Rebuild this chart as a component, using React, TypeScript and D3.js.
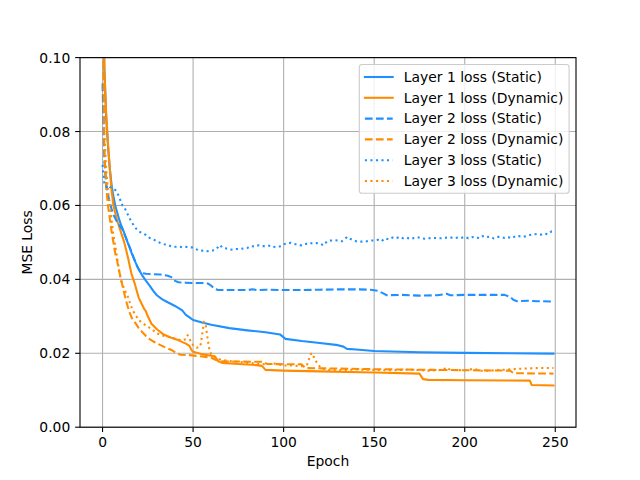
import React from "react";
import * as d3 from "d3";

type Pt = [number, number];

const BLUE = "#1E90FF";
const ORANGE = "#FF8C00";

const xTicks = [0, 50, 100, 150, 200, 250];
const yTicks = [0, 0.02, 0.04, 0.06, 0.08, 0.1];

const layer1Static: Pt[] = [
  [0, 0.135], [1, 0.097], [2, 0.084], [3, 0.076], [4, 0.07], [5, 0.0655], [6, 0.0625], [7, 0.06],
  [8, 0.0582], [9, 0.0565], [10, 0.055], [11, 0.0538], [12, 0.0525], [14, 0.0498], [16, 0.0472],
  [18, 0.0448], [19, 0.0437], [20, 0.0427], [22, 0.041], [24, 0.0396], [26, 0.0383], [28, 0.0369],
  [30, 0.0357], [33, 0.0346], [36, 0.0338], [40, 0.0328], [42, 0.0322], [44, 0.0316], [46, 0.0304],
  [48, 0.0297], [50, 0.029], [55, 0.0283], [60, 0.0277], [70, 0.0268], [80, 0.0262], [90, 0.0257],
  [98, 0.0251], [100, 0.0243], [101, 0.0239], [110, 0.0233], [120, 0.0228], [130, 0.0222],
  [133, 0.0218], [135, 0.0212], [140, 0.021], [150, 0.0206], [175, 0.0203], [200, 0.0201],
  [225, 0.02], [249, 0.0199],
];

const layer1Dynamic: Pt[] = [
  [0, 0.13], [1, 0.097], [2, 0.085], [3, 0.077], [4, 0.07], [5, 0.064], [6, 0.06], [7, 0.058],
  [8, 0.056], [9, 0.0545], [10, 0.053], [11, 0.0515], [12, 0.05], [13, 0.048], [14, 0.046],
  [15, 0.0437], [16, 0.0415], [17, 0.04], [18, 0.0385], [19, 0.0367], [20, 0.035], [21, 0.034],
  [22, 0.033], [23, 0.032], [24, 0.0313], [25, 0.03], [26, 0.029], [27, 0.028], [28, 0.0275],
  [30, 0.0265], [34, 0.025], [38, 0.0242], [42, 0.0235], [46, 0.0226], [48, 0.022], [49, 0.021],
  [50, 0.0204], [54, 0.0199], [58, 0.0195], [62, 0.0192], [64, 0.0178], [66, 0.0174], [75, 0.0171],
  [85, 0.0168], [88, 0.0166], [90, 0.0155], [100, 0.0153], [120, 0.0151], [150, 0.0148],
  [175, 0.0145], [177, 0.013], [180, 0.0128], [200, 0.0127], [236, 0.0126], [237, 0.0114],
  [249, 0.0113],
];

const layer2Static: Pt[] = [
  [0, 0.093], [1, 0.072], [2, 0.066], [3, 0.063], [4, 0.0608], [5, 0.059], [6, 0.0575], [7, 0.0565],
  [8, 0.0556], [9, 0.0548], [10, 0.0541], [11, 0.0535], [12, 0.0523], [13, 0.0511], [14, 0.0499],
  [15, 0.0487], [16, 0.0474], [17, 0.0461], [18, 0.0449], [19, 0.0437], [20, 0.0427], [21, 0.042],
  [22, 0.0417], [24, 0.0415], [28, 0.0414], [32, 0.0413], [36, 0.041], [38, 0.0406], [40, 0.0396],
  [42, 0.0392], [46, 0.0391], [50, 0.039], [55, 0.039], [58, 0.0389], [60, 0.0383], [62, 0.0374],
  [64, 0.0371], [70, 0.0371], [80, 0.0371], [83, 0.0373], [85, 0.0371], [90, 0.0372], [100, 0.0371],
  [110, 0.0371], [120, 0.0372], [130, 0.0373], [140, 0.0373], [148, 0.0372], [152, 0.0369],
  [155, 0.0362], [157, 0.0357], [165, 0.0358], [175, 0.0356], [185, 0.0357], [190, 0.0361],
  [192, 0.0357], [200, 0.0358], [210, 0.0358], [222, 0.0358], [225, 0.0353], [227, 0.0344],
  [229, 0.0341], [235, 0.0342], [240, 0.0341], [249, 0.034],
];

const layer2Dynamic: Pt[] = [
  [0, 0.12], [1, 0.075], [2, 0.065], [3, 0.06], [4, 0.0565], [5, 0.053], [6, 0.05], [7, 0.047],
  [8, 0.0452], [9, 0.0425], [10, 0.0405], [11, 0.0383], [12, 0.0362], [13, 0.0342], [14, 0.0325],
  [15, 0.031], [16, 0.0297], [18, 0.0283], [20, 0.0268], [22, 0.0257], [24, 0.0247], [26, 0.0238],
  [28, 0.0232], [30, 0.0227], [32, 0.0222], [35, 0.0215], [38, 0.0209], [41, 0.02], [43, 0.0196],
  [48, 0.0195], [52, 0.0193], [56, 0.0191], [60, 0.0188], [63, 0.0181], [66, 0.0178], [88, 0.0177],
  [91, 0.0171], [110, 0.017], [112, 0.016], [150, 0.0157], [183, 0.0155], [225, 0.0153],
  [227, 0.0146], [249, 0.0145],
];

const layer3Static: Pt[] = [
  [0, 0.071], [1, 0.066], [2, 0.065], [3, 0.0655], [4, 0.065], [5, 0.0648], [6, 0.0645], [7, 0.0642],
  [8, 0.0635], [9, 0.0625], [10, 0.0612], [11, 0.06], [12, 0.0595], [13, 0.0585], [14, 0.0575],
  [15, 0.0565], [16, 0.0555], [17, 0.0548], [18, 0.054], [19, 0.0535], [20, 0.053], [22, 0.0525],
  [24, 0.052], [26, 0.0512], [28, 0.0508], [30, 0.0503], [32, 0.0498], [34, 0.0495], [36, 0.0493],
  [38, 0.0489], [40, 0.0488], [42, 0.0489], [44, 0.0487], [46, 0.0488], [48, 0.0487], [50, 0.0486],
  [52, 0.0481], [54, 0.0477], [56, 0.0478], [58, 0.0476], [60, 0.0478], [62, 0.0479], [64, 0.0488],
  [65, 0.0493], [66, 0.0486], [68, 0.0484], [70, 0.0481], [72, 0.048], [74, 0.0482], [76, 0.0482],
  [78, 0.0484], [80, 0.0485], [82, 0.049], [84, 0.0489], [86, 0.0492], [88, 0.049], [90, 0.049],
  [92, 0.0491], [94, 0.0487], [96, 0.0489], [98, 0.0489], [100, 0.0495], [102, 0.0497],
  [104, 0.0499], [106, 0.0496], [108, 0.0493], [110, 0.0492], [112, 0.0495], [114, 0.0499],
  [116, 0.0497], [118, 0.0498], [120, 0.0497], [122, 0.0492], [124, 0.0503], [126, 0.0505],
  [128, 0.0506], [130, 0.0505], [132, 0.0503], [134, 0.051], [135, 0.0515], [137, 0.0509],
  [140, 0.0503], [143, 0.0502], [146, 0.0503], [148, 0.0505], [150, 0.0505], [152, 0.0507],
  [154, 0.0503], [156, 0.0511], [158, 0.0508], [160, 0.0513], [162, 0.0511], [164, 0.0515],
  [166, 0.0511], [168, 0.0513], [170, 0.0509], [172, 0.0512], [174, 0.0514], [176, 0.0511],
  [178, 0.051], [180, 0.0511], [182, 0.0512], [184, 0.0512], [186, 0.0511], [188, 0.0511],
  [190, 0.0513], [192, 0.0514], [194, 0.0511], [196, 0.0513], [198, 0.0512], [200, 0.0515],
  [202, 0.0511], [204, 0.0514], [206, 0.0515], [208, 0.0511], [210, 0.0517], [212, 0.0514],
  [214, 0.0516], [216, 0.0511], [218, 0.0515], [220, 0.0515], [222, 0.0512], [224, 0.0514],
  [226, 0.0511], [228, 0.0517], [230, 0.0517], [232, 0.0515], [234, 0.0517], [236, 0.052],
  [238, 0.0522], [240, 0.0523], [242, 0.0521], [244, 0.0524], [246, 0.0522], [248, 0.053],
  [249, 0.0529],
];

const layer3Dynamic: Pt[] = [
  [0, 0.12], [1, 0.08], [2, 0.07], [3, 0.064], [4, 0.06], [5, 0.056], [6, 0.052], [7, 0.049],
  [8, 0.046], [9, 0.043], [10, 0.04], [11, 0.0385], [12, 0.0375], [13, 0.0362], [14, 0.0353],
  [15, 0.0338], [16, 0.0325], [17, 0.0314], [18, 0.0305], [20, 0.029], [22, 0.0282], [25, 0.0272],
  [28, 0.0262], [30, 0.0254], [33, 0.0248], [36, 0.0245], [40, 0.024], [44, 0.0235], [46, 0.0238],
  [47, 0.0249], [48, 0.024], [49, 0.0228], [50, 0.0222], [52, 0.0215], [54, 0.0218], [55, 0.025],
  [56, 0.0285], [57, 0.0275], [58, 0.024], [59, 0.021], [60, 0.0197], [62, 0.019], [65, 0.0183],
  [70, 0.0179], [75, 0.0177], [80, 0.0174], [85, 0.0172], [90, 0.017], [95, 0.0172], [100, 0.0167],
  [105, 0.0167], [110, 0.0165], [113, 0.017], [115, 0.0198], [116, 0.02], [117, 0.0185],
  [119, 0.017], [121, 0.0158], [125, 0.0155], [130, 0.0154], [140, 0.0156], [150, 0.0155],
  [160, 0.0154], [170, 0.0156], [180, 0.0153], [188, 0.0155], [190, 0.0162], [192, 0.0155],
  [200, 0.0154], [205, 0.0158], [210, 0.0152], [220, 0.0155], [230, 0.0158], [240, 0.016],
  [249, 0.016],
];

const seriesLabels = [
  "Layer 1 loss (Static)",
  "Layer 1 loss (Dynamic)",
  "Layer 2 loss (Static)",
  "Layer 2 loss (Dynamic)",
  "Layer 3 loss (Static)",
  "Layer 3 loss (Dynamic)",
];

const DASHED = "7.7,3.33";
const DOTTED = "2.08,3.44";

const series = [
  { data: layer1Static, color: BLUE, dash: undefined as string | undefined },
  { data: layer1Dynamic, color: ORANGE, dash: undefined as string | undefined },
  { data: layer2Static, color: BLUE, dash: DASHED },
  { data: layer2Dynamic, color: ORANGE, dash: DASHED },
  { data: layer3Static, color: BLUE, dash: DOTTED },
  { data: layer3Dynamic, color: ORANGE, dash: DOTTED },
];

const W = 640;
const H = 480;
const L = 80;
const R = 576;
const T = 57.6;
const B = 427.2;
const FONT = "'DejaVu Sans', sans-serif";
const FS = 13.89;

export default function App() {
  const x = d3.scaleLinear().domain([-12.45, 261.45]).range([L, R]);
  const y = d3.scaleLinear().domain([0, 0.1]).range([B, T]);
  const line = d3
    .line<Pt>()
    .x((d) => x(d[0]))
    .y((d) => y(d[1]));

  const legX = 359.3;
  const legY = 64.5;
  const legW = 209.8;
  const legH = 128.8;

  return (
    <svg
      width={W}
      height={H}
      style={{ position: "absolute", left: 0, top: 0 }}
      fontFamily={FONT}
    >
      <rect x={0} y={0} width={W} height={H} fill="#fff" />
      <defs>
        <clipPath id="plotClip">
          <rect x={L} y={T} width={R - L} height={B - T} />
        </clipPath>
      </defs>
      {xTicks.map((t) => (
        <line key={"gx" + t} x1={x(t)} x2={x(t)} y1={T} y2={B} stroke="#b0b0b0" strokeWidth={1.1} />
      ))}
      {yTicks.map((t) => (
        <line key={"gy" + t} x1={L} x2={R} y1={y(t)} y2={y(t)} stroke="#b0b0b0" strokeWidth={1.1} />
      ))}
      <g clipPath="url(#plotClip)">
        {series.map((s, i) => (
          <path
            key={i}
            d={line(s.data) || ""}
            fill="none"
            stroke={s.color}
            strokeWidth={2.08}
            strokeDasharray={s.dash}
            strokeLinejoin="round"
            strokeLinecap={s.dash ? "butt" : "square"}
          />
        ))}
      </g>
      <rect x={L} y={T} width={R - L} height={B - T} fill="none" stroke="#000" strokeWidth={1.1} />
      {xTicks.map((t) => (
        <g key={"xt" + t}>
          <line x1={x(t)} x2={x(t)} y1={B} y2={B + 4.86} stroke="#000" strokeWidth={1.1} />
          <text x={x(t)} y={B + 9.72} dy="0.76em" textAnchor="middle" fontSize={FS} fill="#000">
            {t}
          </text>
        </g>
      ))}
      {yTicks.map((t) => (
        <g key={"yt" + t}>
          <line x1={L - 4.86} x2={L} y1={y(t)} y2={y(t)} stroke="#000" strokeWidth={1.1} />
          <text x={L - 9.72} y={y(t)} dy="0.36em" textAnchor="end" fontSize={FS} fill="#000">
            {t.toFixed(2)}
          </text>
        </g>
      ))}
      <text x={(L + R) / 2} y={466} textAnchor="middle" fontSize={FS} fill="#000">
        Epoch
      </text>
      <text
        transform={`translate(31.5, ${(T + B) / 2}) rotate(-90)`}
        textAnchor="middle"
        fontSize={FS}
        fill="#000"
      >
        MSE Loss
      </text>
      <rect
        x={legX}
        y={legY}
        width={legW}
        height={legH}
        rx={2.8}
        ry={2.8}
        fill="#fff"
        fillOpacity={0.8}
        stroke="#cccccc"
        strokeWidth={1.1}
      />
      {series.map((s, i) => {
        const cy = 77 + i * 20.8;
        return (
          <g key={"lg" + i}>
            <line
              x1={364.9}
              x2={392.7}
              y1={cy}
              y2={cy}
              stroke={s.color}
              strokeWidth={2.08}
              strokeDasharray={s.dash}
              strokeLinecap={s.dash ? "butt" : "square"}
            />
            <text x={403.8} y={cy + 4.7} fontSize={FS} fill="#000">
              {seriesLabels[i]}
            </text>
          </g>
        );
      })}
    </svg>
  );
}
